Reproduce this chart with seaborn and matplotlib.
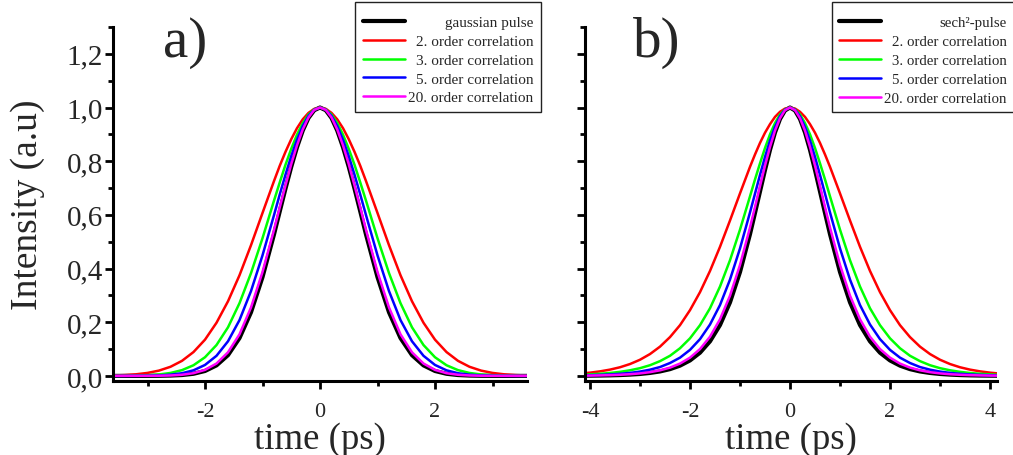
import matplotlib
matplotlib.use("Agg")
import matplotlib.pyplot as plt
import seaborn as sns
from matplotlib.ticker import MultipleLocator, FuncFormatter

# ---------------- data ----------------
time_a = [-3.6, -3.4, -3.2, -3.0, -2.8, -2.6, -2.4, -2.2, -2.0, -1.8, -1.6, -1.4, -1.2, -1.0,
          -0.8, -0.7, -0.6, -0.5, -0.4, -0.3, -0.2, -0.1, 0.0, 0.1, 0.2, 0.3, 0.4, 0.5, 0.6,
          0.7, 0.8, 1.0, 1.2, 1.4, 1.6, 1.8, 2.0, 2.2, 2.4, 2.6, 2.8, 3.0, 3.2, 3.4, 3.6]

gauss_pulse = [0.0000, 0.0000, 0.0000, 0.0001, 0.0004, 0.0012, 0.0032, 0.0079, 0.0183, 0.0392, 0.0773,
               0.141, 0.237, 0.368, 0.527, 0.613, 0.698, 0.779, 0.852, 0.914, 0.961, 0.990, 1.000,
               0.990, 0.961, 0.914, 0.852, 0.779, 0.698, 0.613, 0.527, 0.368, 0.237, 0.141, 0.0773,
               0.0392, 0.0183, 0.0079, 0.0032, 0.0012, 0.0004, 0.0001, 0.0000, 0.0000, 0.0000]
gauss_corr2 = [0.0015, 0.0031, 0.0060, 0.0111, 0.0198, 0.0340, 0.0561, 0.0889, 0.135, 0.198, 0.278,
               0.375, 0.487, 0.607, 0.726, 0.783, 0.835, 0.882, 0.923, 0.956, 0.980, 0.995, 1.000,
               0.995, 0.980, 0.956, 0.923, 0.882, 0.835, 0.783, 0.726, 0.607, 0.487, 0.375, 0.278,
               0.198, 0.135, 0.0889, 0.0561, 0.0340, 0.0198, 0.0111, 0.0060, 0.0031, 0.0015]
gauss_corr3 = [0.0002, 0.0004, 0.0011, 0.0025, 0.0054, 0.0110, 0.0215, 0.0397, 0.0695, 0.115, 0.181,
               0.271, 0.383, 0.513, 0.653, 0.721, 0.787, 0.846, 0.899, 0.942, 0.974, 0.993, 1.000,
               0.993, 0.974, 0.942, 0.899, 0.846, 0.787, 0.721, 0.653, 0.513, 0.383, 0.271, 0.181,
               0.115, 0.0695, 0.0397, 0.0215, 0.0110, 0.0054, 0.0025, 0.0011, 0.0004, 0.0002]
gauss_corr5 = [0.0000, 0.0001, 0.0003, 0.0007, 0.0019, 0.0045, 0.0100, 0.0208, 0.0408, 0.0749, 0.129,
               0.208, 0.316, 0.449, 0.599, 0.676, 0.750, 0.819, 0.880, 0.931, 0.969, 0.992, 1.000,
               0.992, 0.969, 0.931, 0.880, 0.819, 0.750, 0.676, 0.599, 0.449, 0.316, 0.208, 0.129,
               0.0749, 0.0408, 0.0208, 0.0100, 0.0045, 0.0019, 0.0007, 0.0003, 0.0001, 0.0000]
gauss_corr20 = [0.0000, 0.0000, 0.0001, 0.0002, 0.0006, 0.0016, 0.0042, 0.0101, 0.0224, 0.0461, 0.0879,
                0.155, 0.255, 0.387, 0.544, 0.628, 0.710, 0.789, 0.859, 0.918, 0.963, 0.991, 1.000,
                0.991, 0.963, 0.918, 0.859, 0.789, 0.710, 0.628, 0.544, 0.387, 0.255, 0.155, 0.0879,
                0.0461, 0.0224, 0.0101, 0.0042, 0.0016, 0.0006, 0.0002, 0.0001, 0.0000, 0.0000]

time_b = [-4.2, -4.0, -3.8, -3.6, -3.4, -3.2, -3.0, -2.8, -2.6, -2.4, -2.2, -2.0, -1.8, -1.6, -1.4,
          -1.2, -1.0, -0.8, -0.7, -0.6, -0.5, -0.4, -0.3, -0.2, -0.1, 0.0, 0.1, 0.2, 0.3, 0.4, 0.5,
          0.6, 0.7, 0.8, 1.0, 1.2, 1.4, 1.6, 1.8, 2.0, 2.2, 2.4, 2.6, 2.8, 3.0, 3.2, 3.4, 3.6, 3.8,
          4.0, 4.2]

sech_pulse = [0.0006, 0.0009, 0.0013, 0.0020, 0.0031, 0.0048, 0.0072, 0.0110, 0.0166, 0.0252, 0.0382,
              0.0576, 0.0865, 0.1288, 0.1895, 0.274, 0.387, 0.528, 0.607, 0.687, 0.767, 0.842, 0.907,
              0.957, 0.989, 1.000, 0.989, 0.957, 0.907, 0.842, 0.767, 0.687, 0.607, 0.528, 0.387,
              0.274, 0.1895, 0.1288, 0.0865, 0.0576, 0.0382, 0.0252, 0.0166, 0.0110, 0.0072, 0.0048,
              0.0031, 0.0020, 0.0013, 0.0009, 0.0006]
sech_corr2 = [0.0086, 0.0121, 0.0169, 0.0234, 0.0322, 0.0442, 0.0602, 0.0814, 0.109, 0.1446, 0.189,
              0.245, 0.312, 0.391, 0.481, 0.579, 0.680, 0.779, 0.825, 0.868, 0.906, 0.938, 0.965,
              0.984, 0.996, 1.000, 0.996, 0.984, 0.965, 0.938, 0.906, 0.868, 0.825, 0.779, 0.680,
              0.579, 0.481, 0.391, 0.312, 0.245, 0.189, 0.1446, 0.109, 0.0814, 0.0602, 0.0442,
              0.0322, 0.0234, 0.0169, 0.0121, 0.0086]
sech_corr3 = [0.0041, 0.0057, 0.0079, 0.0109, 0.0151, 0.0209, 0.0288, 0.0398, 0.055, 0.075, 0.103,
              0.140, 0.189, 0.252, 0.333, 0.431, 0.545, 0.669, 0.732, 0.792, 0.849, 0.900, 0.942,
              0.974, 0.993, 1.000, 0.993, 0.974, 0.942, 0.900, 0.849, 0.792, 0.732, 0.669, 0.545,
              0.431, 0.333, 0.252, 0.189, 0.140, 0.103, 0.075, 0.055, 0.0398, 0.0288, 0.0209,
              0.0151, 0.0109, 0.0079, 0.0057, 0.0041]
sech_corr5 = [0.0018, 0.0026, 0.0037, 0.0054, 0.0078, 0.0112, 0.0161, 0.0232, 0.033, 0.048, 0.068,
              0.097, 0.137, 0.1915, 0.264, 0.359, 0.475, 0.609, 0.679, 0.749, 0.816, 0.877, 0.928,
              0.967, 0.992, 1.000, 0.992, 0.967, 0.928, 0.877, 0.816, 0.749, 0.679, 0.609, 0.475,
              0.359, 0.264, 0.1915, 0.137, 0.097, 0.068, 0.048, 0.033, 0.0232, 0.0161, 0.0112,
              0.0078, 0.0054, 0.0037, 0.0026, 0.0018]
sech_corr20 = [0.0008, 0.0012, 0.0019, 0.0028, 0.0042, 0.0062, 0.0093, 0.0139, 0.0207, 0.0309, 0.0459,
               0.068, 0.100, 0.146, 0.211, 0.299, 0.4135, 0.553, 0.629, 0.707, 0.783, 0.853, 0.9135,
               0.960, 0.990, 1.000, 0.990, 0.960, 0.9135, 0.853, 0.783, 0.707, 0.629, 0.553, 0.4135,
               0.299, 0.211, 0.146, 0.100, 0.068, 0.0459, 0.0309, 0.0207, 0.0139, 0.0093, 0.0062,
               0.0042, 0.0028, 0.0019, 0.0012, 0.0008]

labels_a = ["gaussian pulse", "2. order correlation", "3. order correlation",
            "5. order correlation", "20. order correlation"]
labels_b = ["sech\u00b2-pulse", "2. order correlation", "3. order correlation",
            "5. order correlation", "20. order correlation"]
colors = ["#000000", "#ff0000", "#00ff00", "#0000ff", "#ff00ff"]
widths = [3.0, 1.8, 1.8, 1.8, 1.8]
yticks = [0.0, 0.2, 0.4, 0.6, 0.8, 1.0, 1.2]

# ---------------- style ----------------
sns.set_theme(style="ticks")
plt.rcParams["font.family"] = ["Liberation Serif", "DejaVu Serif"]
plt.rcParams["axes.linewidth"] = 2.2
plt.rcParams["axes.unicode_minus"] = False

fig = plt.figure(figsize=(10.13, 4.56), dpi=100)
W, H = 1013.0, 456.0
ax1 = fig.add_axes([113 / W, 74 / H, 414 / W, 354 / H])
ax2 = fig.add_axes([585 / W, 74 / H, 412 / W, 354 / H])

series_a = [gauss_pulse, gauss_corr2, gauss_corr3, gauss_corr5, gauss_corr20]
series_b = [sech_pulse, sech_corr2, sech_corr3, sech_corr5, sech_corr20]

for ax, t, series, labels in [(ax1, time_a, series_a, labels_a), (ax2, time_b, series_b, labels_b)]:
    for y, lab, c, lw in zip(series, labels, colors, widths):
        sns.lineplot(x=t, y=y, ax=ax, color=c, linewidth=lw, label=lab)

for ax in (ax1, ax2):
    sns.despine(ax=ax)
    ax.set_ylim(-0.019, 1.30)
    ax.set_yticks(yticks)
    ax.yaxis.set_minor_locator(MultipleLocator(0.1))
    ax.xaxis.set_minor_locator(MultipleLocator(1))
    ax.yaxis.set_major_formatter(FuncFormatter(lambda v, p: f"{v:.1f}".replace(".", ",")))
    ax.tick_params(axis="both", which="major", direction="out", length=6, width=2.0, color="black")
    ax.tick_params(axis="both", which="minor", direction="out", length=3.5, width=2.0, color="black")
    ax.tick_params(axis="x", which="major", labelsize=16, pad=9)
    ax.tick_params(axis="y", which="major", labelsize=21, pad=1)
    ax.set_xlabel("time (ps)", fontsize=26.5, labelpad=0.5)
    ax.spines["left"].set_color("black")
    ax.spines["bottom"].set_color("black")

ax1.set_xlim(-3.6, 3.6)
ax1.set_xticks([-2, 0, 2])
ax2.set_xlim(-4.1, 4.14)
ax2.set_xticks([-4, -2, 0, 2, 4])
ax2.tick_params(axis="y", labelleft=False)
ax1.set_ylabel("Intensity (a.u)", fontsize=27)
ax1.yaxis.set_label_coords(-0.165, 0.5)
ax2.set_ylabel("")

ax1.text(0.12, 0.918, "a)", transform=ax1.transAxes, fontsize=41, va="baseline", ha="left")
ax2.text(0.1165, 0.918, "b)", transform=ax2.transAxes, fontsize=41, va="baseline", ha="left")

legends = []
for ax, x0, fs, ls in [(ax1, 355, 11, 0.33), (ax2, 832, 10.7, 0.37)]:
    leg = ax.legend(loc="upper left", bbox_to_anchor=(x0 / W, 1 - 3 / H), bbox_transform=fig.transFigure,
                    fontsize=fs, frameon=True, fancybox=False, edgecolor="#222222", framealpha=1,
                    borderaxespad=0, borderpad=0.5, labelspacing=ls, handlelength=2.8,
                    handletextpad=0.2, title=" ", title_fontsize=0.5)
    leg.get_frame().set_linewidth(1.0)
    legends.append(leg)

fig.canvas.draw()
renderer = fig.canvas.get_renderer()
for leg in legends:
    texts = leg.get_texts()
    ws = [t.get_window_extent(renderer).width for t in texts]
    wmax = max(ws)
    for t, w in zip(texts, ws):
        t.set_position((wmax - w, 0))

fig.savefig("out.png", dpi=100)
